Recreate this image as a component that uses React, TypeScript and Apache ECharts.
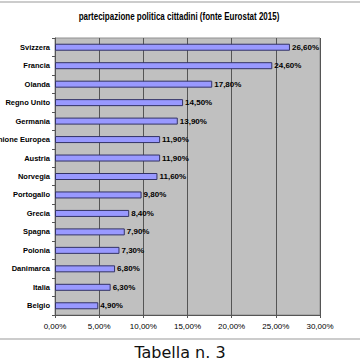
import React, { useEffect, useRef } from "react";
import * as echarts from "echarts";

const categories = [
  "Svizzera", "Francia", "Olanda", "Regno Unito", "Germania", "Unione Europea",
  "Austria", "Norvegia", "Portogallo", "Grecia", "Spagna", "Polonia",
  "Danimarca", "Italia", "Belgio",
];
const values = [26.6, 24.6, 17.8, 14.5, 13.9, 11.9, 11.9, 11.6, 9.8, 8.4, 7.9, 7.3, 6.8, 6.3, 4.9];
const titleText = "partecipazione politica cittadini (fonte Eurostat 2015)";
const captionText = "Tabella n. 3";

const pct = (v: number) => v.toFixed(2).replace(".", ",") + "%";
const FONT = "'Liberation Sans Narrow', 'Liberation Sans', Arial, sans-serif";

export default function App() {
  const ref = useRef<HTMLDivElement>(null);
  useEffect(() => {
    if (!ref.current) return;
    const chart = echarts.init(ref.current, undefined, { renderer: "svg" });
    chart.setOption({
      animation: false,
      backgroundColor: "#ffffff",
      grid: {
        left: 55, right: 40, top: 38, bottom: 45,
        outerBoundsMode: "none",
        containLabel: false,
        show: true, backgroundColor: "#C0C0C0", borderColor: "#909090", borderWidth: 1,
      },
      xAxis: {
        type: "value",
        min: 0, max: 30, interval: 5,
        axisLine: { show: true, lineStyle: { color: "#555" } },
        axisTick: { show: true, length: 3, lineStyle: { color: "#555" } },
        splitLine: { show: true, lineStyle: { color: "#555", width: 1 } },
        axisLabel: {
          formatter: (v: number) => pct(v),
          fontFamily: FONT, fontSize: 8, color: "#000", margin: 7,
        },
      },
      yAxis: {
        type: "category",
        data: categories,
        inverse: true,
        axisLine: { show: true, lineStyle: { color: "#555" } },
        axisTick: { show: true, length: 3, lineStyle: { color: "#555" } },
        axisLabel: { fontFamily: FONT, fontSize: 7.5, fontWeight: "bold", color: "#000", margin: 5 },
      },
      series: [
        {
          type: "bar",
          data: values,
          barWidth: 7,
          itemStyle: { color: "#9999FF", borderColor: "#333366", borderWidth: 1 },
          label: {
            show: true,
            position: "right",
            distance: 2,
            formatter: (p: any) => pct(p.value),
            fontFamily: FONT, fontSize: 8, fontWeight: "bold", color: "#000",
          },
        },
      ],
      graphic: [
        { type: "line", shape: { x1: 0, y1: 2, x2: 360, y2: 2 }, style: { stroke: "#999", lineWidth: 1 } },
        { type: "line", shape: { x1: 0, y1: 339, x2: 360, y2: 339 }, style: { stroke: "#999", lineWidth: 1 } },
        {
          type: "text", x: 179, y: 17, scaleX: 0.8,
          style: {
            text: titleText, fontFamily: FONT, fontSize: 10, fontWeight: "bold", fill: "#000",
            align: "center", verticalAlign: "middle",
          },
        },
        {
          type: "text", x: 180, y: 352,
          style: {
            text: captionText, fontFamily: "'DejaVu Sans', Verdana, sans-serif", fontSize: 16, fill: "#111",
            align: "center", verticalAlign: "middle",
          },
        },
      ],
    });
    return () => chart.dispose();
  }, []);
  return <div ref={ref} style={{ position: "fixed", left: 0, top: 0, width: 360, height: 360 }} />;
}
